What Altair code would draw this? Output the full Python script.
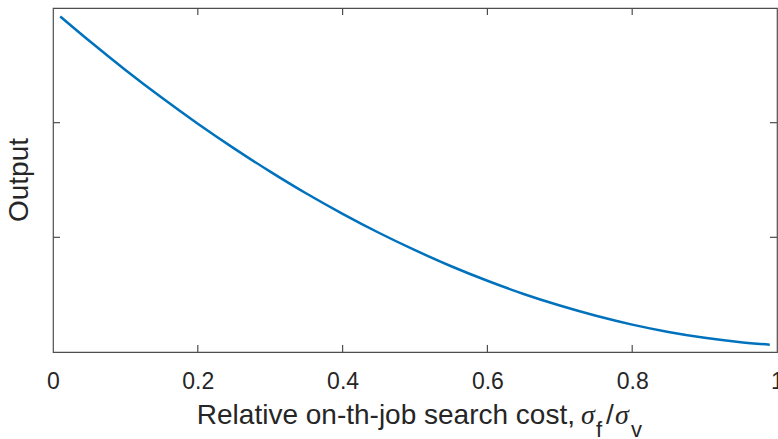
import altair as alt
import pandas as pd

# Relative on-the-job search cost (x) and output (y, arbitrary units)
cost = [0.01, 0.05, 0.10, 0.15, 0.20, 0.25, 0.30, 0.35, 0.40, 0.45, 0.50,
        0.55, 0.60, 0.65, 0.70, 0.75, 0.80, 0.85, 0.90, 0.95, 0.99]
output = [2.926, 2.714, 2.460, 2.219, 1.991, 1.776, 1.573, 1.382, 1.205, 1.040,
          0.888, 0.748, 0.621, 0.506, 0.405, 0.316, 0.239, 0.175, 0.124, 0.086,
          0.064]

x_tick_values = [0, 0.2, 0.4, 0.6, 0.8, 1]
x_inner_ticks = [0.2, 0.4, 0.6, 0.8]
y_inner_ticks = [1, 2]

W, H = 724, 344
AX = "#4d4d4d"
TXT = "#262626"

df = pd.DataFrame({"cost": cost, "output": output})
xt = pd.DataFrame({"xt": x_inner_ticks})
yt = pd.DataFrame({"yt": y_inner_ticks})
one = pd.DataFrame({"a": [0]})

xscale = alt.Scale(domain=[0, 1], nice=False, zero=False)
yscale = alt.Scale(domain=[0, 3], nice=False, zero=False)

line = alt.Chart(df).mark_line(color="#0072BD", strokeWidth=2.5,
                               interpolate="monotone").encode(
    x=alt.X("cost:Q", scale=xscale,
            axis=alt.Axis(values=x_tick_values, format="~g", title=None,
                          domain=False, ticks=False, tickSize=0, grid=False,
                          labelFontSize=23, labelFont="Liberation Sans",
                          labelColor=TXT, labelPadding=18,
                          labelFlush=False, labelOverlap=False)),
    y=alt.Y("output:Q", scale=yscale,
            axis=alt.Axis(labels=False, ticks=False, domain=False,
                          grid=False, title=None)),
)

bt = alt.Chart(xt).mark_rule(color=AX, strokeWidth=1.2).encode(
    x=alt.X("xt:Q", scale=xscale), y=alt.value(H), y2=alt.value(H - 7))
tt = alt.Chart(xt).mark_rule(color=AX, strokeWidth=1.2).encode(
    x=alt.X("xt:Q", scale=xscale), y=alt.value(0), y2=alt.value(7))
lt = alt.Chart(yt).mark_rule(color=AX, strokeWidth=1.2).encode(
    y=alt.Y("yt:Q", scale=yscale), x=alt.value(0), x2=alt.value(7))
rt = alt.Chart(yt).mark_rule(color=AX, strokeWidth=1.2).encode(
    y=alt.Y("yt:Q", scale=yscale), x=alt.value(W), x2=alt.value(W - 7))

ylab = alt.Chart(one).mark_text(
    text="Output", angle=270, fontSize=28, font="Liberation Sans",
    color=TXT, align="center", baseline="middle").encode(
    x=alt.value(-33), y=alt.value(172))

main_t = alt.Chart(one).mark_text(
    text="Relative on-th-job search cost,", fontSize=28,
    font="Liberation Sans", color=TXT, align="right",
    baseline="alphabetic").encode(x=alt.value(522), y=alt.value(416))
sig1 = alt.Chart(one).mark_text(
    text="σ", fontSize=28, font="Liberation Serif", fontStyle="italic",
    color=TXT, align="left", baseline="alphabetic").encode(
    x=alt.value(528), y=alt.value(416))
sub_f = alt.Chart(one).mark_text(
    text="f", fontSize=22, font="Liberation Sans", color=TXT,
    align="left", baseline="alphabetic").encode(
    x=alt.value(543), y=alt.value(429))
slash = alt.Chart(one).mark_text(
    text="/", fontSize=28, font="Liberation Sans", color=TXT,
    align="left", baseline="alphabetic").encode(
    x=alt.value(553), y=alt.value(416))
sig2 = alt.Chart(one).mark_text(
    text="σ", fontSize=28, font="Liberation Serif", fontStyle="italic",
    color=TXT, align="left", baseline="alphabetic").encode(
    x=alt.value(562), y=alt.value(416))
sub_v = alt.Chart(one).mark_text(
    text="v", fontSize=22, font="Liberation Sans", color=TXT,
    align="left", baseline="alphabetic").encode(
    x=alt.value(578), y=alt.value(429))

chart = alt.layer(
    line, bt, tt, lt, rt, ylab, main_t, sig1, sub_f, slash, sig2, sub_v
).properties(
    width=W, height=H,
    autosize=alt.AutoSizeParams(type="none"),
    padding={"left": 53, "top": 8, "right": 1, "bottom": 87},
    background="white",
).configure_view(stroke=AX, strokeWidth=1.2)

chart.save("out.html", embed_options={"renderer": "svg", "actions": False})
